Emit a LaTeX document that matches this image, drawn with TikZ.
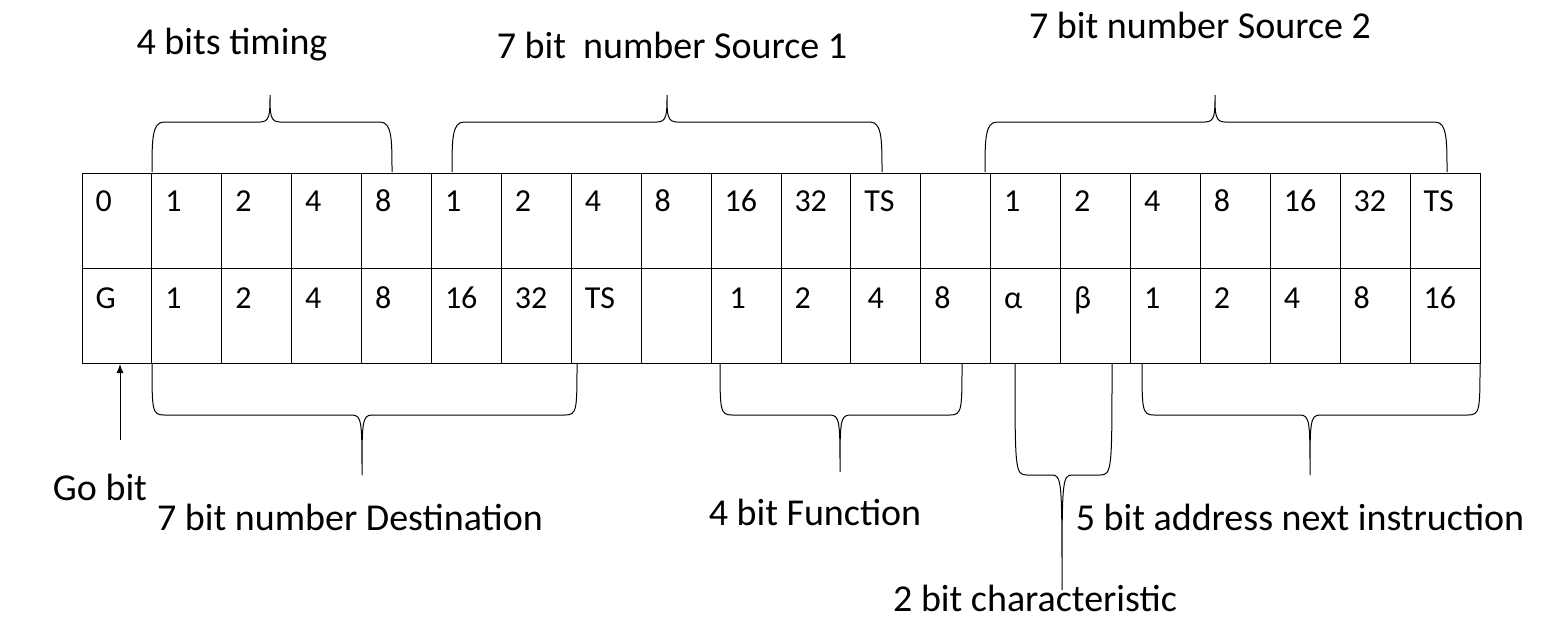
\documentclass[tikz,border=0pt]{standalone}
\usepackage{fontspec}
\setmainfont{Carlito}
\usetikzlibrary{arrows.meta}
\begin{document}
\begin{tikzpicture}[x=1pt,y=-1pt,line width=1pt,
  lbl/.style={font=\fontsize{38}{40}\selectfont,inner sep=0pt},
  cell/.style={font=\fontsize{32}{34}\selectfont,inner sep=0pt,anchor=base west}]
\useasboundingbox (0,0) rectangle (1555,630);
% table
\draw (82,173) rectangle (1480,363);
\draw (82,268) -- (1480,268);
\foreach \i in {1,...,19}{\draw ({82+\i*69.9},173) -- ({82+\i*69.9},363);}
% row texts
\foreach \t [count=\i from 0] in {0,1,2,4,8,1,2,4,8,16,32,TS,{},1,2,4,8,16,32,TS}
  {\node[cell] (r1c\i) at ({82+\i*69.9+13},211) {\t};}
\foreach \t [count=\i from 0] in {G,1,2,4,8,16,32,TS,{},{},2,{},8,α,β,1,2,4,8,16}
  {\node[cell] (r2c\i) at ({82+\i*69.9+13},308) {\t};}
\node[cell] (r2c9) at (729,308) {1};
\node[cell] (r2c11) at (867,308) {4};
% brace macros
\newcommand\mybraceT[5]{% x1 x2 xm ybar ytip ; ends at 172
  \draw (#1,172) .. controls (#1,140) and (#1,#4) .. ({#1+12},#4) -- ({#3-10},#4)
     .. controls (#3,#4) and (#3,{#4-8}) .. (#3,#5)
     .. controls (#3,{#4-8}) and (#3,#4) .. ({#3+10},#4) -- ({#2-12},#4)
     .. controls (#2,#4) and (#2,140) .. (#2,172);}
\newcommand\mybraceB[6]{% x1 x2 xm ybar ytip yend
  \draw (#1,#6) .. controls (#1,{#4-5}) and (#1,#4) .. ({#1+12},#4) -- ({#3-10},#4)
     .. controls (#3,#4) and (#3,{#4+8}) .. (#3,#5)
     .. controls (#3,{#4+8}) and (#3,#4) .. ({#3+10},#4) -- ({#2-12},#4)
     .. controls (#2,#4) and (#2,{#4-5}) .. (#2,#6);}
\mybraceT{152}{392}{270}{122}{95}
\mybraceT{452}{882}{667}{122}{95}
\mybraceT{985}{1447}{1215}{122}{95}
\mybraceB{152}{577}{362}{415}{475}{363}
\mybraceB{720}{962}{840}{415}{472}{363}
\mybraceB{1015}{1112}{1062}{475}{590}{363}
\mybraceB{1142}{1480}{1310}{415}{475}{363}
% labels
\node[lbl] (t1) at (232,45) {4 bits timing};
\node[lbl] (t2) at (672,45) {7 bit\ \ number Source 1};
\node[lbl] (t3) at (1200,25) {7 bit number Source 2};
\node[lbl] (gob) at (100,487) {Go bit};
\node[lbl] (b1) at (350,517) {7 bit number Destination};
\node[lbl] (b2) at (815,512) {4 bit Function};
\node[lbl] (b3) at (1300,517) {5 bit address next instruction};
\node[lbl] (b4) at (1035,598) {2 bit characteristic};
\coordinate (gs) at (120,440);
\coordinate (ge) at (120,364);
\draw[-{Latex[length=9pt,width=7pt]}] (gs) -- (ge);
\end{tikzpicture}
\end{document}
